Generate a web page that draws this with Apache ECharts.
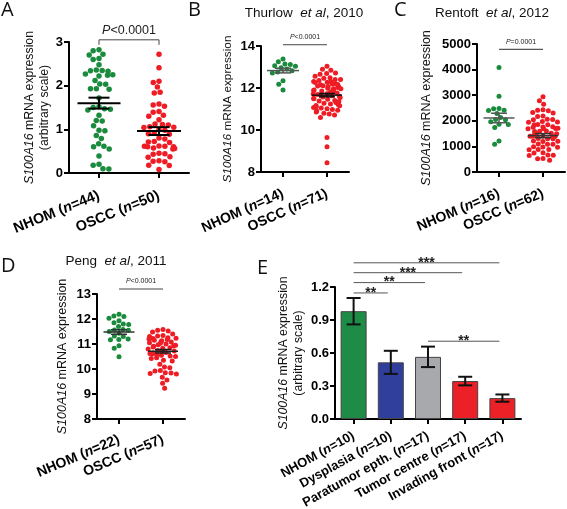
<!DOCTYPE html>
<html><head><meta charset="utf-8">
<script src="https://cdn.jsdelivr.net/npm/echarts@6/dist/echarts.min.js"></script>
<style>html,body{margin:0;padding:0;background:#fff}#c{width:567px;height:509px}</style>
</head><body><div id="c"></div>
<script>
// ---------- DATA ----------
const catsA = ['NHOM (n=44)', 'OSCC (n=50)'];
const nhomA = [2.82, 2.80, 2.72, 2.70, 2.62, 2.60, 2.48, 2.36, 2.35, 2.34, 2.33, 2.27, 2.25, 2.24, 2.22, 2.12, 2.04, 2.03, 1.93, 1.93, 1.92, 1.72, 1.52, 1.50, 1.47, 1.46, 1.44, 1.32, 1.20, 1.19, 1.08, 0.98, 0.97, 0.86, 0.79, 0.67, 0.61, 0.60, 0.55, 0.39, 0.20, 0.18, 0.10, 0.09];
const osccA = [2.72, 2.41, 2.10, 2.07, 1.97, 1.85, 1.83, 1.58, 1.56, 1.53, 1.41, 1.39, 1.32, 1.30, 1.22, 1.12, 1.11, 1.10, 1.06, 1.05, 1.04, 0.99, 0.98, 0.91, 0.90, 0.89, 0.80, 0.78, 0.72, 0.71, 0.70, 0.62, 0.61, 0.61, 0.60, 0.60, 0.57, 0.56, 0.55, 0.45, 0.44, 0.43, 0.37, 0.36, 0.28, 0.27, 0.26, 0.18, 0.17, 0.08];
const meanA = [1.60, 0.96];
const semA = [0.125, 0.09];

const catsB = ['NHOM (n=14)', 'OSCC (n=71)'];
const nhomB = [13.38, 13.25, 13.14, 13.12, 13.06, 13.04, 12.96, 12.90, 12.82, 12.76, 12.72, 12.34, 12.18, 11.90];
const osccB = [13.03, 12.89, 12.85, 12.72, 12.69, 12.66, 12.56, 12.49, 12.47, 12.41, 12.40, 12.36, 12.31, 12.30, 12.27, 12.26, 12.21, 12.19, 12.17, 12.16, 12.11, 12.09, 12.07, 12.06, 12.02, 11.99, 11.97, 11.96, 11.93, 11.90, 11.88, 11.86, 11.83, 11.81, 11.78, 11.76, 11.73, 11.71, 11.69, 11.66, 11.63, 11.61, 11.57, 11.55, 11.51, 11.49, 11.46, 11.41, 11.38, 11.36, 11.31, 11.27, 11.24, 11.21, 11.17, 11.16, 11.11, 11.07, 11.05, 11.01, 10.98, 10.94, 10.91, 10.86, 10.80, 10.76, 10.71, 10.60, 9.64, 9.20, 8.44];
const meanB = [12.83, 11.66];
const semB = [0.11, 0.08];

const catsC = ['NHOM (n=16)', 'OSCC (n=62)'];
const nhomC = [4086, 2963, 2480, 2470, 2415, 2400, 2285, 2130, 2050, 2040, 1960, 1870, 1860, 1740, 1210, 1085];
const osccC = [2937, 2780, 2650, 2430, 2410, 2395, 2320, 2300, 2190, 2170, 2060, 2050, 2040, 1970, 1955, 1945, 1860, 1850, 1845, 1770, 1760, 1750, 1710, 1700, 1690, 1685, 1600, 1590, 1585, 1510, 1500, 1495, 1490, 1410, 1400, 1395, 1390, 1385, 1380, 1310, 1300, 1295, 1210, 1200, 1195, 1090, 1085, 1080, 985, 980, 970, 880, 875, 865, 750, 740, 660, 650, 645, 525, 520, 460];
const meanC = [2110, 1420];
const semC = [185, 80];

const catsD = ['NHOM (n=22)', 'OSCC (n=57)'];
const nhomD = [12.19, 12.12, 12.10, 12.03, 11.93, 11.85, 11.80, 11.78, 11.70, 11.58, 11.56, 11.55, 11.50, 11.43, 11.32, 11.30, 11.20, 11.18, 11.17, 10.93, 10.83, 10.49];
const osccD = [11.58, 11.55, 11.52, 11.48, 11.40, 11.34, 11.32, 11.30, 11.25, 11.23, 11.22, 11.20, 11.18, 11.15, 11.13, 11.10, 11.08, 11.05, 11.03, 11.00, 10.97, 10.95, 10.93, 10.91, 10.88, 10.85, 10.83, 10.80, 10.76, 10.74, 10.72, 10.70, 10.66, 10.64, 10.62, 10.60, 10.58, 10.55, 10.52, 10.50, 10.45, 10.42, 10.35, 10.32, 10.19, 10.08, 10.05, 9.94, 9.92, 9.85, 9.84, 9.82, 9.80, 9.67, 9.56, 9.43, 9.23];
const meanD = [11.48, 10.71];
const semD = [0.09, 0.07];

const catsE = ['NHOM (n=10)', 'Dysplasia (n=10)', 'Paratumor epth. (n=17)', 'Tumor centre (n=17)', 'Invading front (n=17)'];
const meanE = [0.98, 0.515, 0.565, 0.345, 0.19];
const errE = [0.12, 0.105, 0.093, 0.039, 0.033];
const colorsE = ['#1e8c46', '#2f3f9b', '#a7a9ad', '#ec2027', '#ec2027'];
// significance: [fromIndex, y, toIndex, label]
const sigE = [[0, 1.42, 4, '***'], [0, 1.33, 3, '***'], [0, 1.24, 2, '**'], [0, 1.146, 1, '**'], [2, 0.707, 4, '**']];
const sigA = [[0, 3.05, 1, 'P<0.0001']];
const sigB = [[0, 14.06, 1, 'P<0.0001']];
const sigC = [[0, 4790, 1, 'P=0.0001']];
const sigD = [[0, 13.2, 1, 'P<0.0001']];

// ---------- STYLE HELPERS ----------
const FF = '"Liberation Sans", Arial, sans-serif';
const GREEN = '#1a8a3c', RED = '#ee1c25';
const catFmt = v => v.replace('(n=', '({i|n}=');
const yName1 = '{i|S100A16} mRNA expression';
const yName2 = '{i|S100A16} mRNA expression\n(arbitrary scale)';

function xCat(gi, cats, rot, fs, jitter, margin) {
  return {
    type: 'category', gridIndex: gi, data: cats,
    jitter: jitter || 0, jitterOverlap: false, jitterMargin: 0.4,
    axisLine: { show: true, lineStyle: { color: '#000', width: 2 } },
    axisTick: { show: true, alignWithLabel: true, length: 5, lineStyle: { color: '#000', width: 2 } },
    axisLabel: {
      interval: 0, rotate: rot, margin, color: '#000', fontFamily: FF, fontWeight: 'bold', fontStyle: 'normal', fontSize: fs,
      formatter: catFmt,
      rich: { i: { fontStyle: 'italic', fontWeight: 'bold', fontFamily: FF, fontSize: fs, color: '#000' } }
    },
    splitLine: { show: false }
  };
}
function yVal(gi, min, max, interval, name, gap, fs, fmt) {
  return {
    type: 'value', gridIndex: gi, min, max, interval,
    name, nameLocation: 'middle', nameRotate: 90, nameGap: gap,
    nameTextStyle: { fontFamily: FF, fontSize: fs, color: '#111', lineHeight: 15,
      rich: { i: { fontStyle: 'italic', fontFamily: FF, fontSize: fs, color: '#111' } } },
    axisLine: { show: true, lineStyle: { color: '#000', width: 2 } },
    axisTick: { show: true, length: 5, lineStyle: { color: '#000', width: 2 } },
    axisLabel: { color: '#000', fontFamily: FF, fontWeight: 'bold', fontSize: 13, margin: 6, formatter: fmt || (v => String(v)) },
    splitLine: { show: false }
  };
}
function scatter(gi, idx, vals, color, size) {
  return { type: 'scatter', xAxisIndex: gi, yAxisIndex: gi, symbolSize: size, z: 2,
    itemStyle: { color, opacity: 1 }, data: vals.map(v => [idx, v]), silent: true, animation: false };
}
function meanSem(gi, means, sems, opts) {
  return {
    type: 'custom', xAxisIndex: gi, yAxisIndex: gi, z: 5, clip: false, silent: true, animation: false,
    data: means.map((m, i) => [i, m, sems[i]]),
    renderItem(params, api) {
      const o = opts[params.dataIndex];
      const i = api.value(0), m = api.value(1), s = api.value(2);
      const c = api.coord([i, m]), t = api.coord([i, m + s]), b = api.coord([i, m - s]);
      const st = { stroke: o.color, lineWidth: o.width, fill: null };
      const ch = [
        { type: 'line', shape: { x1: c[0], y1: t[1], x2: c[0], y2: b[1] }, style: st },
        { type: 'line', shape: { x1: c[0] - o.sw, y1: t[1], x2: c[0] + o.sw, y2: t[1] }, style: st },
        { type: 'line', shape: { x1: c[0] - o.sw, y1: b[1], x2: c[0] + o.sw, y2: b[1] }, style: st }
      ];
      if (o.mw) ch.push({ type: 'line', shape: { x1: c[0] - o.mw, y1: c[1], x2: c[0] + o.mw, y2: c[1] }, style: st });
      return { type: 'group', children: ch };
    }
  };
}
function sig(gi, sigs, o) {
  return {
    type: 'custom', xAxisIndex: gi, yAxisIndex: gi, z: 6, clip: false, silent: true, animation: false,
    data: sigs.map(s => [s[0], s[1], s[2]]),
    renderItem(params, api) {
      const a = api.coord([api.value(0), api.value(1)]);
      const b = api.coord([api.value(2), api.value(1)]);
      const x1 = a[0] + (o.l || 0), x2 = b[0] + (o.r || 0), y = a[1];
      const st = { stroke: o.color, lineWidth: o.lw, fill: null };
      const ch = [{ type: 'line', shape: { x1, y1: y, x2, y2: y }, style: st }];
      if (o.tick) {
        ch.push({ type: 'line', shape: { x1, y1: y, x2: x1, y2: y + o.tick }, style: st });
        ch.push({ type: 'line', shape: { x1: x2, y1: y, x2, y2: y + o.tick }, style: st });
      }
      let txt = sigs[params.dataIndex][3];
      if (txt.charAt(0) === 'P') txt = '{i|P}' + txt.slice(1);
      ch.push({ type: 'text', x: (x1 + x2) / 2, y: y - o.dy, style: {
        text: txt, align: 'center', verticalAlign: 'middle', fill: '#222',
        fontFamily: FF, fontSize: o.fs, fontWeight: o.fw || 'normal',
        rich: { i: { fontStyle: 'italic', fontFamily: FF, fontSize: o.fs, fill: '#222' } } } });
      return { type: 'group', children: ch };
    }
  };
}
function tt(x, y, parts, fs) {
  return { type: 'text', x, y, style: { text: parts, align: 'center', verticalAlign: 'middle', fill: '#111',
    fontFamily: FF, fontSize: fs, rich: { i: { fontStyle: 'italic', fontFamily: FF, fontSize: fs, fill: '#111' } } } };
}
function letter(x, y, s) {
  return { type: 'text', x, y, style: { text: s, fill: '#111', fontFamily: '"Open Sans", "DejaVu Sans", sans-serif', fontSize: 20 } };
}

// ---------- CHART ----------
const chart = echarts.init(document.getElementById('c'), null, { renderer: 'canvas' });
const g = (left, top, width, height) => ({ left, top, width, height, containLabel: false, outerBoundsMode: 'none' });
const blk = { color: '#000', width: 2, mw: 21.5, sw: 10.5 };
const option = {
  animation: false,
  backgroundColor: '#fff',
  grid: [g(69, 42, 120, 131), g(261, 46, 88, 126), g(477, 44, 88, 128), g(97, 294, 88, 125), g(335, 287, 186, 132)],
  xAxis: [
    xCat(0, catsA, 22, 14.5, 34, 22),
    xCat(1, catsB, 24, 14, 28, 21),
    xCat(2, catsC, 23, 14, 30, 21),
    xCat(3, catsD, 23, 14, 30, 20),
    xCat(4, catsE, 29, 13, 0, 16)
  ],
  yAxis: [
    yVal(0, 0, 3, 1, yName2, 7, 12.3),
    yVal(1, 8, 14, 2, yName1, 26, 11.8),
    yVal(2, 0, 5000, 1000, yName1, 43, 12.5),
    yVal(3, 8, 13, 1, yName1, 27, 12.5),
    yVal(4, 0, 1.2, 0.3, yName2, 29, 12.3, v => v.toFixed(1))
  ],
  series: [
    scatter(0, 0, nhomA, GREEN, 5.5), scatter(0, 1, osccA, RED, 5.5),
    meanSem(0, meanA, semA, [blk, { color: '#000', width: 2, mw: 22, sw: 10.5 }]),
    sig(0, sigA, { color: '#444', lw: 1, tick: 5, dy: 9, fs: 12.5 }),

    scatter(1, 0, nhomB, GREEN, 5), scatter(1, 1, osccB, RED, 5),
    meanSem(1, meanB, semB, [{ color: '#555', width: 1.5, mw: 16, sw: 8 }, { color: '#111', width: 1.5, mw: 15, sw: 8 }]),
    sig(1, sigB, { color: '#444', lw: 1, dy: 8, fs: 7 }),

    scatter(2, 0, nhomC, GREEN, 5), scatter(2, 1, osccC, RED, 5),
    meanSem(2, meanC, semC, [{ color: '#555', width: 1.5, mw: 15.5, sw: 8 }, { color: '#333', width: 1.5, mw: 15, sw: 8 }]),
    sig(2, sigC, { color: '#555', lw: 1.2, dy: 7.5, fs: 7 }),

    scatter(3, 0, nhomD, GREEN, 5), scatter(3, 1, osccD, RED, 5),
    meanSem(3, meanD, semD, [{ color: '#333', width: 1.5, mw: 15.5, sw: 8 }, { color: '#222', width: 1.5, mw: 15, sw: 8 }]),
    sig(3, sigD, { color: '#444', lw: 1, dy: 7.5, fs: 7 }),

    { type: 'bar', xAxisIndex: 4, yAxisIndex: 4, barWidth: 26, z: 2, silent: true,
      data: meanE.map((v, i) => ({ value: v, itemStyle: { color: colorsE[i], borderColor: '#444', borderWidth: 1 } })) },
    meanSem(4, meanE, errE, catsE.map(() => ({ color: '#111', width: 2, mw: 0, sw: 7 }))),
    sig(4, sigE, { color: '#555', lw: 1, dy: 0, fs: 14, fw: 'bold', r: -3 })
  ],
  graphic: [
    letter(1, 0, 'A'), letter(188, 0, 'B'), letter(394, 0, 'C'), letter(1, 256, 'D'), letter(257, 258, 'E'),
    tt(304, 13, 'Thurlow  {i|et al}, 2010', 13.5),
    tt(492, 13, 'Rentoft  {i|et al}, 2012', 13.5),
    tt(116, 261, 'Peng  {i|et al}, 2011', 13.5)
  ]
};
chart.setOption(option);
</script></body></html>
